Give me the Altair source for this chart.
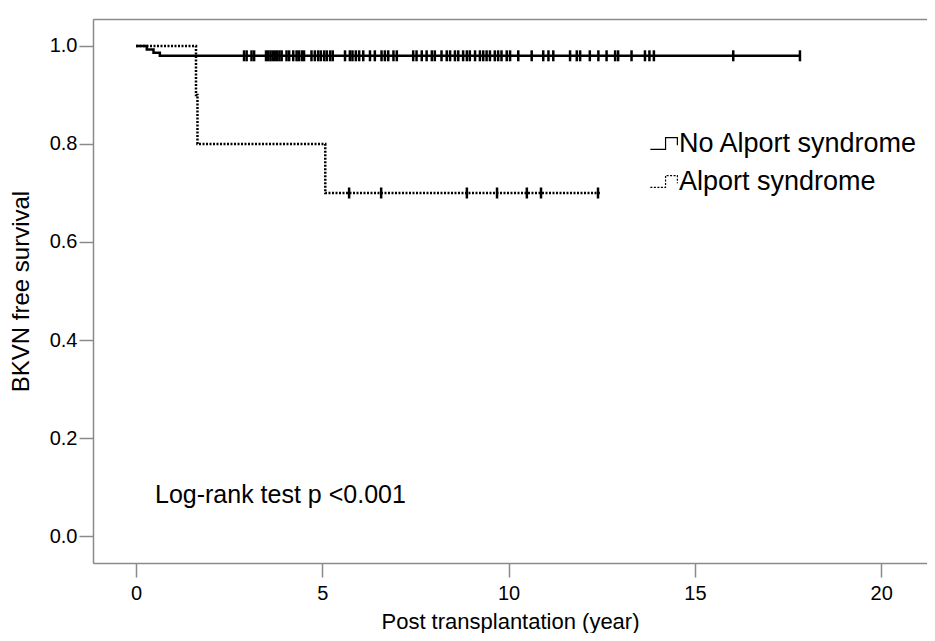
import altair as alt
import pandas as pd

# ---- data ----
groups = ["No Alport syndrome", "Alport syndrome"]

no_alport_step_times = [0.0, 0.29, 0.47, 0.64]
no_alport_step_surv = [1.0, 0.993, 0.986, 0.980]
no_alport_end = 17.82

alport_step_times = [0.0, 1.61, 1.65, 5.08]
alport_step_surv = [1.0, 0.9, 0.8, 0.7]
alport_end = 12.45

no_alport_censored = [
    2.90, 2.97, 3.10, 3.17, 3.49, 3.55, 3.61, 3.67, 3.73, 3.79, 3.85, 3.91,
    4.04, 4.11, 4.22, 4.31, 4.37, 4.45, 4.51, 4.71, 4.80, 4.89, 4.96, 5.05,
    5.12, 5.21, 5.28, 5.61, 5.74, 5.81, 5.90, 5.99, 6.10, 6.28, 6.41, 6.59,
    6.68, 6.77, 6.91, 7.00, 7.44, 7.53, 7.67, 7.80, 7.94, 8.02, 8.20, 8.34,
    8.43, 8.56, 8.65, 8.78, 8.88, 8.96, 9.10, 9.23, 9.32, 9.41, 9.50, 9.63,
    9.72, 9.81, 9.95, 10.04, 10.26, 10.62, 10.93, 11.07, 11.20, 11.65, 11.83,
    11.92, 12.18, 12.41, 12.63, 12.86, 12.94, 13.30, 13.66, 13.78, 13.90,
    16.03, 17.82,
]
alport_censored = [5.72, 6.58, 8.88, 9.69, 10.49, 10.87, 12.40]

x_ticks = [0, 5, 10, 15, 20]
y_ticks = [0.0, 0.2, 0.4, 0.6, 0.8, 1.0]
x_domain = [-1.154, 21.23]
y_domain = [-0.0551, 1.0551]

annotation_text = "Log-rank test p <0.001"
annotation_x = 0.51
annotation_y = 0.084

FONT = "Liberation Sans"
FRAME = "#8a8a8a"

# ---- tables ----
rows = []
for t, s in zip(no_alport_step_times, no_alport_step_surv):
    rows.append({"time": t, "surv": s, "group": groups[0]})
rows.append({"time": no_alport_end, "surv": no_alport_step_surv[-1], "group": groups[0]})
for t, s in zip(alport_step_times, alport_step_surv):
    rows.append({"time": t, "surv": s, "group": groups[1]})
rows.append({"time": alport_end, "surv": alport_step_surv[-1], "group": groups[1]})
lines_df = pd.DataFrame(rows)

cens_rows = [{"time": t, "surv": no_alport_step_surv[-1]} for t in no_alport_censored]
cens_rows += [{"time": t, "surv": alport_step_surv[-1]} for t in alport_censored]
cens_df = pd.DataFrame(cens_rows)

ann_df = pd.DataFrame({"time": [annotation_x], "surv": [annotation_y], "label": [annotation_text]})

x_scale = alt.Scale(domain=x_domain, nice=False, zero=False)
y_scale = alt.Scale(domain=y_domain, nice=False, zero=False)

x_axis = alt.Axis(
    values=x_ticks, title="Post transplantation (year)", grid=False,
    domainColor=FRAME, domainWidth=1.5, tickColor=FRAME, tickWidth=1.5,
    tickSize=14, labelPadding=6, labelFontSize=20, labelFont=FONT, labelColor="black",
    titleFontSize=22, titleFont=FONT, titleFontWeight="normal", titleColor="black",
    titlePadding=8,
)
y_axis = alt.Axis(
    values=y_ticks, format=".1f", title="BKVN free survival", grid=False,
    domainColor=FRAME, domainWidth=1.5, tickColor=FRAME, tickWidth=1.5,
    tickSize=14, labelPadding=2, labelFontSize=20, labelFont=FONT, labelColor="black",
    titleFontSize=24, titleFont=FONT, titleFontWeight="normal", titleColor="black",
    titlePadding=16,
)

legend = alt.Legend(
    title=None, orient="none", legendX=550, legendY=107,
    symbolType="M-0.6,0.35H0.3V-0.35H1V0.1", symbolSize=1139, symbolStrokeWidth=1.2,
    labelFontSize=27, labelFont=FONT, labelColor="black", labelOffset=1, labelLimit=0,
    rowPadding=7, symbolFillColor="transparent",
)

lines = alt.Chart(lines_df).mark_line(interpolate="step-after", strokeWidth=2.5).encode(
    x=alt.X("time:Q", scale=x_scale, axis=x_axis),
    y=alt.Y("surv:Q", scale=y_scale, axis=y_axis),
    color=alt.Color("group:N", scale=alt.Scale(domain=groups, range=["black", "black"]), legend=legend),
    strokeDash=alt.StrokeDash("group:N", scale=alt.Scale(domain=groups, range=[[1, 0], [2, 1.5]]), legend=legend),
)

ticks = alt.Chart(cens_df).mark_tick(orient="vertical", size=11, thickness=2.5, color="black", opacity=1).encode(
    x=alt.X("time:Q", scale=x_scale, axis=None),
    y=alt.Y("surv:Q", scale=y_scale),
)

top_frame = alt.Chart(ann_df).mark_point(opacity=0).encode(
    x=alt.X("time:Q", scale=x_scale, axis=alt.Axis(orient="top", labels=False, ticks=False, title=None,
                                                    grid=False, domainColor=FRAME, domainWidth=1.5)),
    y=alt.Y("surv:Q", scale=y_scale),
)

ann = alt.Chart(ann_df).mark_text(align="left", baseline="middle", fontSize=25, font=FONT, color="black").encode(
    x=alt.X("time:Q", scale=x_scale, axis=None),
    y=alt.Y("surv:Q", scale=y_scale),
    text="label:N",
)

chart = alt.layer(lines, ticks, ann, top_frame).resolve_axis(x="independent").properties(
    width=834, height=544,
    autosize=alt.AutoSizeParams(type="none"),
    padding={"left": 85, "top": 11, "right": 0, "bottom": 70},
).configure_view(stroke=None).configure(background="white")

chart.save("out.html", embed_options={"renderer": "svg", "actions": False})
